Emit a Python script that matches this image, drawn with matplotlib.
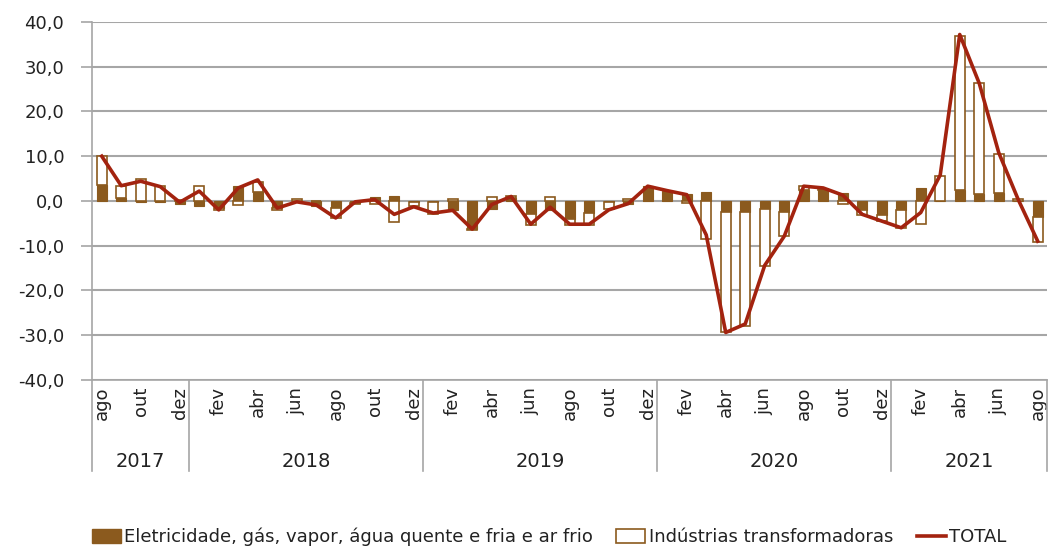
import numpy as np
import matplotlib
matplotlib.use("Agg")
from matplotlib import pyplot as plt
from matplotlib.patches import Patch
from matplotlib.lines import Line2D
import matplotlib.transforms as mtransforms

# months ago/2017 .. ago/2021
months = ["ago", "set", "out", "nov", "dez",
          "jan", "fev", "mar", "abr", "mai", "jun", "jul", "ago", "set", "out", "nov", "dez",
          "jan", "fev", "mar", "abr", "mai", "jun", "jul", "ago", "set", "out", "nov", "dez",
          "jan", "fev", "mar", "abr", "mai", "jun", "jul", "ago", "set", "out", "nov", "dez",
          "jan", "fev", "mar", "abr", "mai", "jun", "jul", "ago"]
years = ["2017", "2018", "2019", "2020", "2021"]
year_sizes = [5, 12, 12, 12, 8]

eletricidade = [3.6, 0.7, -0.3, -0.3, -0.6,
                -1.2, -1.5, 3.4, 1.9, -1.6, 0.0, -1.2, -1.6, -0.4, 0.8, 1.0, -0.3,
                -0.2, -2.0, -6.2, -1.9, 0.6, -3.0, -2.1, -4.0, -2.7, -0.3, -0.7, 3.3,
                2.2, 1.6, 2.0, -2.4, -2.4, -1.7, -2.4, 2.4, 2.4, 1.8, -2.0, -3.1,
                -2.0, 2.8, -0.1, 2.4, 1.5, 1.7, 0.0, -3.5]
industrias = [6.4, 2.7, 4.8, 3.4, 0.2,
              3.4, -0.5, -0.8, 2.3, -0.4, 0.4, 0.0, -2.2, -0.2, -0.7, -4.6, -0.8,
              -2.7, 0.4, -0.2, 0.8, 0.4, -2.3, 0.8, -1.4, -2.6, -1.5, 0.5, 0.0,
              0.0, -0.4, -8.5, -27.0, -25.5, -12.9, -5.5, 1.0, 0.3, -0.6, -1.1, -1.3,
              -4.1, -5.1, 5.6, 34.4, 24.8, 8.9, 0.4, -5.6]
total = [10.0, 3.4, 4.4, 3.2, -0.3,
         2.2, -2.0, 2.9, 4.7, -1.6, -0.2, -0.9, -3.8, -0.2, 0.3, -3.0, -1.3,
         -2.7, -2.1, -6.3, -0.8, 1.0, -5.2, -1.4, -5.2, -5.2, -2.0, -0.6, 3.3,
         2.3, 1.4, -7.6, -29.4, -27.5, -14.4, -7.9, 3.3, 2.9, 1.3, -3.0, -4.5,
         -6.0, -2.6, 5.8, 37.2, 26.3, 10.8, 0.3, -9.0]

brown = "#8B5A1E"
red = "#A3230F"
grey = "#A6A6A6"
txt = "#222222"

x = np.arange(len(months))
el = np.array(eletricidade)
ind = np.array(industrias)
# excel-style stacking: negatives stack downwards, positives upwards
ind_bottom = np.where(np.sign(ind) == np.sign(el), el, 0)

fig = plt.figure(figsize=(10.5, 5.49), dpi=100)
ax = fig.add_axes([0.0876, 0.308, 0.910, 0.652])

ax.bar(x, el, width=0.5, color=brown, edgecolor=brown, linewidth=0.8, zorder=2)
ax.bar(x, ind, width=0.5, bottom=ind_bottom, color="white", edgecolor=brown,
       linewidth=1.2, zorder=2)
ax.plot(x, total, color=red, linewidth=2.6, zorder=3, solid_joinstyle="round")

ax.set_xlim(-0.5, len(months) - 0.5)
ax.set_ylim(-40, 40)
yt = np.arange(-40, 41, 10)
ax.set_yticks(yt)
ax.set_yticklabels([("%.1f" % v).replace(".", ",") for v in yt], fontsize=13, color=txt)
ax.yaxis.grid(True, color=grey, linewidth=1.5, zorder=0)
ax.set_axisbelow(True)
ax.tick_params(axis="y", length=8, color=grey, width=1.2, pad=12)

ax.set_xticks(x[::2])
ax.set_xticklabels(months[::2], rotation=90, fontsize=13, color=txt)
ax.tick_params(axis="x", length=0, pad=5)

for s in ["top", "right"]:
    ax.spines[s].set_visible(False)
for s in ["left", "bottom"]:
    ax.spines[s].set_color(grey)
    ax.spines[s].set_linewidth(1.2)

# year separators and labels below the axis
trans = mtransforms.blended_transform_factory(ax.transData, ax.transAxes)
edges = np.concatenate([[0], np.cumsum(year_sizes)]) - 0.5
for e in edges:
    ax.plot([e, e], [0, -0.255], color=grey, linewidth=1.2, transform=trans, clip_on=False)
for i, yr in enumerate(years):
    ax.text((edges[i] + edges[i + 1]) / 2, -0.228, yr, transform=trans, ha="center",
            va="center", fontsize=14, color=txt)

handles = [Patch(facecolor=brown, edgecolor=brown),
           Patch(facecolor="white", edgecolor=brown, linewidth=1.2),
           Line2D([0], [0], color=red, linewidth=2.6)]
labels = ["Eletricidade, gás, vapor, água quente e fria e ar frio",
          "Indústrias transformadoras", "TOTAL"]
fig.legend(handles, labels, loc="center", bbox_to_anchor=(0.523, 0.022), ncol=3,
           frameon=False, prop={"size": 13}, handlelength=1.6, handleheight=0.8,
           columnspacing=1.3, handletextpad=0.2, labelcolor=txt)

plt.savefig("out.png", dpi=100)
